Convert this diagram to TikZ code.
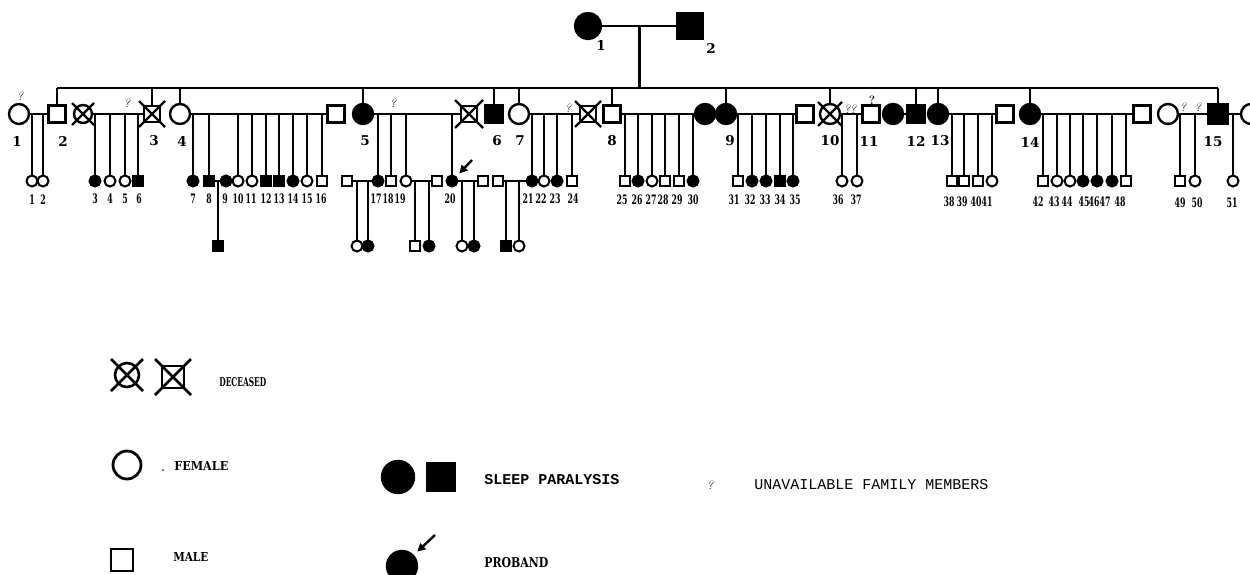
\documentclass[tikz,border=0pt]{standalone}
\usepackage{fontspec}
\usepackage{graphicx}
\setmonofont{Liberation Mono}
\newfontfamily\slab{DejaVu Serif}
\usetikzlibrary{arrows.meta,calc}
\newcommand\cnd[1]{\scalebox{0.6}[1]{#1}}
\newcommand\xmark[2]{\draw[line width=2.2pt] ([shift={(-#2,-#2)}]#1.center) -- ([shift={(#2,#2)}]#1.center) ([shift={(-#2,#2)}]#1.center) -- ([shift={(#2,-#2)}]#1.center);}
\newcommand\kids[3]{\foreach \n/\x/\s/\lx in {#3} {\node[\s] (c\n) at (\x,181) {}; \draw (c\n.north) -- (c\n.north |- #1.center); \node[labIII] at (\lx,#2) {\cnd{\n}};}}
\newcommand\grand[2]{\foreach \n/\x/\s in {#2} {\node[\s] (e\n) at (\x,246) {}; \draw (e\n.north) -- (e\n.north |- #1.center);}}
\begin{document}
\begin{tikzpicture}[x=1pt,y=-1pt,line width=2.6pt,
  sym/.style={draw,line width=2.4pt,inner sep=0pt,outer sep=0pt},
  bF/.style={sym,circle,minimum size=20pt},
  bM/.style={sym,rectangle,minimum size=17pt},
  sF/.style={sym,circle,minimum size=11pt,line width=2pt},
  sM/.style={sym,rectangle,minimum size=10pt,line width=2pt},
  aff/.style={fill=black},
  oc/.style={sF}, fc/.style={sF,aff}, os/.style={sM}, fs/.style={sM,aff},
  labII/.style={font=\fontsize{13.5}{13.5}\selectfont\slab\bfseries,inner sep=0pt},
  labIII/.style={font=\fontsize{13}{13}\selectfont\slab\bfseries,inner sep=0pt},
  qm/.style={font=\fontsize{12}{12}\selectfont\itshape,inner sep=0pt},
  legtxt/.style={font=\slab\bfseries,inner sep=0pt,anchor=west},
  monotxt/.style={font=\fontsize{15}{15}\selectfont\ttfamily,inner sep=0pt,anchor=west},
  parrow/.style={-{Triangle[length=8pt,width=8pt]},line width=2.4pt}]
\useasboundingbox (0,0) rectangle (1250,575);

% Generation I
\node[bF,aff,minimum size=26pt] (g1f) at (588,26) {};
\node[bM,aff,minimum size=25pt] (g1m) at (690,26) {};
\draw (g1f) -- (g1m);
\coordinate (mid1) at ($(g1f.east)!0.5!(g1m.west)$);
\node[labII] at (601,45) {1};
\node[labII] at (711,48) {2};
\coordinate (sib) at (0,88);
\draw (mid1) -- (mid1 |- sib);

% Generation II
\node[bF] (a1) at (19,114) {};
\node[bM] (a2) at (57,114) {};
\node[bF,minimum size=18pt] (d1) at (83,114) {};
\node[bM,minimum size=16pt] (a3) at (152,114) {};
\node[bF] (a4) at (180,114) {};
\node[bM] (s4) at (336,114) {};
\node[bF,aff] (a5) at (363,114) {};
\node[bM,minimum size=16pt] (s5) at (469,114) {};
\node[bM,aff,minimum size=18pt] (a6) at (494,114) {};
\node[bF] (a7) at (519,114) {};
\node[bM,minimum size=16pt] (s7) at (588,114) {};
\node[bM] (a8) at (612,114) {};
\node[bF,aff] (s8) at (705,114) {};
\node[bF,aff] (a9) at (726,114) {};
\node[bM] (s9) at (805,114) {};
\node[bF] (a10) at (830,114) {};
\node[bM] (a11) at (871,114) {};
\node[bF,aff] (s12) at (893,114) {};
\node[bM,aff,minimum size=18pt] (a12) at (916,114) {};
\node[bF,aff] (a13) at (938,114) {};
\node[bM] (s13) at (1005,114) {};
\node[bF,aff] (a14) at (1030,114) {};
\node[bM] (s14) at (1142,114) {};
\node[bF] (s15a) at (1168,114) {};
\node[bM,aff,minimum size=19pt] (a15) at (1218,114) {};
\node[bF] (s15b) at (1251,114) {};

\xmark{d1}{11}
\xmark{a3}{13}
\xmark{s5}{14}
\xmark{s7}{13}
\xmark{a10}{12}

% sibship line and drops
\draw (a2.north |- sib) -- (a15.north |- sib);
\foreach \p in {a2,a3,a4,a5,a6,a7,a8,a9,a10,a12,a13,a14,a15}
  \draw (\p.north) -- (\p.north |- sib);

% marriages
\draw (a1) -- (a2);
\draw (d1) -- (a3);
\draw (a4) -- (s4);
\draw (a5) -- (s5);
\draw (a7) -- (s7);
\draw (a8) -- (s8);
\draw (a9) -- (s9);
\draw (a10) -- (a11);
\draw (s12) -- (a12);
\draw (a13) -- (s13);
\draw (a14) -- (s14);
\draw (s15a) -- (a15);
\draw (a15) -- (s15b);

% generation II labels
\node[labII] at (17,141) {1};
\node[labII] at (63,141) {2};
\node[labII] at (154,141) {3};
\node[labII] at (182,141) {4};
\node[labII] at (365,141) {5};
\node[labII] at (497,141) {6};
\node[labII] at (520,141) {7};
\node[labII] at (612,141) {8};
\node[labII] at (730,141) {9};
\node[labII] at (830,141) {10};
\node[labII] at (869,141) {11};
\node[labII] at (916,141) {12};
\node[labII] at (940,141) {13};
\node[labII] at (1030,142) {14};
\node[labII] at (1213,142) {15};

% question marks
\node[qm] at (20,96) {?};
\node[qm] at (127,103) {?};
\node[qm] at (393,103) {?};
\node[qm] at (568,108) {?};
\node[qm] at (850,109) {??};
\node[qm,font=\fontsize{12}{12}\selectfont\bfseries] at (872,100) {?};
\node[qm] at (1183,107) {?};
\node[qm] at (1198,107) {?};

% Generation III
\kids{a1}{200}{1/32/oc/32, 2/43/oc/43}
\kids{a3}{199}{3/95/fc/95, 4/110/oc/110, 5/125/oc/125, 6/138/fs/139}
\kids{a4}{199}{7/193/fc/193, 8/209/fs/209, 10/238/oc/238, 11/252/oc/251, 12/266/fs/266, 13/279/fs/279, 14/293/fc/293, 15/307/oc/307, 16/322/os/321}
\node[fc] (c9) at (226,181) {};
\node[labIII] at (225,199) {\cnd{9}};
\draw (c8) -- (c9);
\kids{a5}{199}{17/378/fc/376, 18/391/os/388, 19/406/oc/400, 20/452/fc/450}
\kids{a7}{199}{21/532/fc/528, 22/544/oc/541, 23/557/fc/555, 24/572/os/573}
\kids{a8}{200}{25/625/os/622, 26/638/fc/637, 27/652/oc/651, 28/665/os/663, 29/679/os/677, 30/693/fc/693}
\kids{a9}{200}{31/738/os/734, 32/752/fc/750, 33/766/fc/765, 34/780/fs/780, 35/793/fc/795}
\kids{a10}{200}{36/842/oc/838, 37/857/oc/856}
\kids{a13}{202}{38/952/os/949, 39/964/os/962, 40/978/os/976, 41/992/oc/987}
\kids{a14}{202}{42/1043/os/1038, 43/1057/oc/1054, 44/1070/oc/1067, 45/1083/fc/1084, 46/1097/fc/1094, 47/1112/fc/1105, 48/1126/os/1120}
\kids{s15a}{203}{49/1180/os/1180, 50/1195/oc/1197}
\kids{s15b}{203}{51/1233/oc/1232}

% gen III spouses
\node[os] (s17) at (347,181) {};
\node[os] (s19) at (437,181) {};
\node[os] (s20) at (483,181) {};
\node[os] (s21) at (498,181) {};
\draw (s17) -- (c17);
\draw (c19) -- (s19);
\draw (c20) -- (s20);
\draw (s21) -- (c21);

% Generation IV
\grand{c8}{1/218/fs}
\grand{c17}{2/357/oc, 3/368/fc}
\grand{c19}{4/415/os, 5/429/fc}
\grand{c20}{6/462/oc, 7/474/fc}
\grand{c21}{8/506/fs, 9/519/oc}

% proband arrow
\coordinate (pa) at (472,160);
\draw[parrow,shorten >=5pt] (pa) -- (c20);

% Legend
\node[sym,circle,minimum size=24pt,line width=2.6pt] (lxc) at (127,375) {};
\draw[line width=2.6pt] ([shift={(-16,-16)}]lxc.center) -- ([shift={(16,16)}]lxc.center) ([shift={(-16,16)}]lxc.center) -- ([shift={(16,-16)}]lxc.center);
\node[sym,rectangle,minimum size=22pt,line width=2.6pt] (lxs) at (173,377) {};
\draw[line width=2.6pt] ([shift={(-18,-18)}]lxs.center) -- ([shift={(18,18)}]lxs.center) ([shift={(-18,18)}]lxs.center) -- ([shift={(18,-18)}]lxs.center);
\node[legtxt] (tdec) at (218,382) {\resizebox{47pt}{9pt}{DECEASED}};

\node[sym,circle,minimum size=28pt,line width=2.8pt] (lf) at (127,465) {};
\fill (163,470) circle (0.9);
\node[legtxt] (tfem) at (173,466) {\resizebox{54pt}{9pt}{FEMALE}};

\node[sym,rectangle,minimum size=22pt,line width=2.8pt] (lm) at (122,560) {};
\node[legtxt] (tmal) at (172,557) {\resizebox{35pt}{9pt}{MALE}};

\node[sym,circle,aff,minimum size=32pt] (lsc) at (398,477) {};
\node[sym,rectangle,aff,minimum size=27pt] (lss) at (441,477) {};
\node[monotxt,font=\fontsize{15}{15}\selectfont\ttfamily\bfseries] (tsp) at (483,480) {SLEEP PARALYSIS};

\node[sym,circle,aff,minimum size=30pt] (lpc) at (402,566) {};
\coordinate (lpa) at (435,535);
\draw[parrow,shorten >=6pt] (lpa) -- (lpc);
\node[legtxt] (tpro) at (483,563) {\resizebox{64pt}{10pt}{PROBAND}};

\node[qm] (lq) at (710,485) {?};
\node[monotxt] (tun) at (753,485) {UNAVAILABLE FAMILY MEMBERS};
\end{tikzpicture}
\end{document}
